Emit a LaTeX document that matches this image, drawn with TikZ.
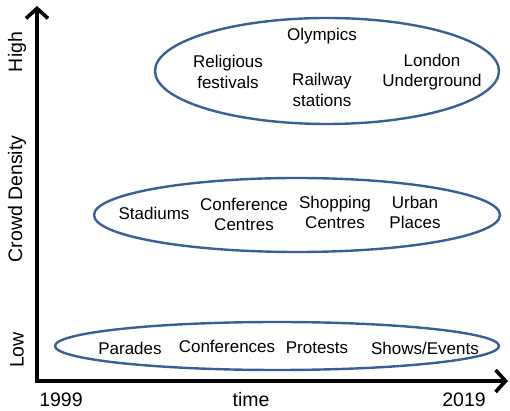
\documentclass[tikz,border=0pt]{standalone}
\usepackage{fontspec}
\setmainfont{Liberation Sans}
\usetikzlibrary{arrows.meta,shapes.geometric}
\definecolor{bandblue}{RGB}{58,95,150}
\tikzset{
  band/.style={ellipse, draw=bandblue, line width=2.4pt, inner sep=0pt},
  lbl/.style={align=center, inner sep=0pt},
  axislbl/.style={lbl, font=\fontsize{19.5}{23}\selectfont},
  axis/.style={line width=3.6pt, -{Straight Barb[length=10pt,width=22pt]}}
}
\begin{document}
\begin{tikzpicture}[x=1pt, y=1pt, font=\fontsize{17}{20.5}\selectfont]
  \useasboundingbox (0,0) rectangle (510,411);
  % axes
  \coordinate (origin) at (37,30);
  \coordinate (ytip) at (37,405);
  \coordinate (xtip) at (508,30);
  \draw[axis] ([yshift=-1.8pt]origin) -- (ytip);
  \draw[axis] ([xshift=-1.8pt]origin) -- (xtip);
  % axis labels
  \node[axislbl, rotate=90] (density) at (17,212) {Crowd Density};
  \node[axislbl, rotate=90] (high) at (17,359) {High};
  \node[axislbl, rotate=90] (low) at (17,61) {Low};
  \node[axislbl] (start) at (61,11) {1999};
  \node[axislbl] (time) at (251,11) {time};
  \node[axislbl] (end) at (464,11) {2019};
  % bands
  \node[band, minimum width=344pt, minimum height=106pt] (top) at (327,340) {};
  \node[band, minimum width=406pt, minimum height=74pt] (mid) at (297,196) {};
  \node[band, minimum width=444pt, minimum height=48pt] (bot) at (277,65) {};
  % high density
  \node[lbl] (olympics) at (322,375) {Olympics};
  \node[lbl] (religious) at (228,339) {Religious\\festivals};
  \node[lbl] (railway) at (322,321) {Railway\\stations};
  \node[lbl] (london) at (432,339) {London\\Underground};
  % medium density
  \node[lbl] (stadiums) at (154,198) {Stadiums};
  \node[lbl] (confcentres) at (244,196.5) {Conference\\Centres};
  \node[lbl] (shopping) at (335,198.5) {Shopping\\Centres};
  \node[lbl] (urban) at (415,198.5) {Urban\\Places};
  % low density
  \node[lbl] (parades) at (130,63) {Parades};
  \node[lbl] (conferences) at (227,65) {Conferences};
  \node[lbl] (protests) at (317,63) {Protests};
  \node[lbl] (shows) at (425,63) {Shows/Events};
\end{tikzpicture}
\end{document}
